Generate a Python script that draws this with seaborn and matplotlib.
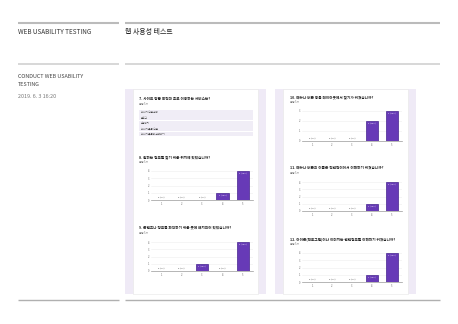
import matplotlib
matplotlib.use("Agg")
import matplotlib.pyplot as plt
from matplotlib.patches import Rectangle
import seaborn as sns
import pandas as pd

sns.set_theme(style="white")
plt.rcParams['font.family'] = ['Noto Sans CJK KR', 'DejaVu Sans']

# Page texts
header_left = "WEB USABILITY TESTING"
header_right = "웹 사용성 테스트"
sub_title = "CONDUCT WEB USABILITY\nTESTING"
date_text = "2019. 6. 3 16:20"

# Question 7 (short answers)
q7_title = "7. 사이트 방문 목적과 주로 이용하는 서비스는?"
q7_answers = ["나이키 신발 구매", "블로그", "쇼핑하기", "나이키 운동 신발", "나이키 운동화 구매하기"]
resp_note = "응답 5개"

# Bar chart questions
options = ["1", "2", "3", "4", "5"]
q8_title = "8. 원하는 정보를 찾기 쉬운 위치에 있었습니까?"
q8_counts = [0, 0, 0, 1, 4]
q9_title = "9. 콘텐츠나 정보를 파악하기 쉬운 곳에 배치되어 있었습니까?"
q9_counts = [0, 0, 1, 0, 4]
q10_title = "10. 메뉴나 버튼 등을 레이아웃에서 찾기가 쉬웠습니까?"
q10_counts = [0, 0, 0, 2, 3]
q11_title = "11. 메뉴나 버튼의 이름은 직관적이어서 이해하기 쉬웠습니까?"
q11_counts = [0, 0, 0, 1, 4]
q12_title = "12. 아이콘(픽토그램)이나 이미지는 관련정보를 이해하기 쉬웠습니까?"
q12_counts = [0, 0, 0, 1, 4]

W, H = 458, 324
BAR = "#673ab7"
BAR_EDGE = "#45238f"
LAV = "#efeaf6"


def pos(x0, y0, x1, y1):
    return [x0 / W, 1 - y1 / H, (x1 - x0) / W, (y1 - y0) / H]


fig = plt.figure(figsize=(W / 100, H / 100), dpi=100)
fig.patch.set_facecolor("white")

bg = fig.add_axes([0, 0, 1, 1])
bg.set_xlim(0, W)
bg.set_ylim(H, 0)
bg.axis("off")

# rules
for y, lw, c in [(23, 1.5, "#bbbbbb"), (64, 1.3, "#d4d4d4"), (300, 1.0, "#b0b0b0")]:
    bg.plot([18, 119], [y, y], color=c, lw=lw, solid_capstyle="butt")
    bg.plot([125, 440], [y, y], color=c, lw=lw, solid_capstyle="butt")

bg.text(18, 32, header_left, fontsize=4.6, color="#333333", va="center")
bg.text(125, 32, header_right, fontsize=5, color="#222222", va="center", fontweight="medium")
bg.text(18, 80.5, sub_title, fontsize=3.9, color="#444444", va="center", linespacing=1.6)
bg.text(18, 96.5, date_text, fontsize=3.9, color="#777777", va="center")

# panels
for x0 in (125, 275):
    bg.add_patch(Rectangle((x0, 89), 141, 205, facecolor=LAV, edgecolor="none"))
    bg.add_patch(Rectangle((x0 + 8, 89), 125, 205, facecolor="white", edgecolor="#e6e6e6", lw=0.4))


def q_header(x, y, title):
    bg.text(x, y, title, fontsize=2.6, color="#222222", va="center", fontweight="bold")
    bg.text(x, y + 5, resp_note, fontsize=1.8, color="#777777", va="center")


# question 7 list
q_header(139, 99, q7_title)
for i, ans in enumerate(q7_answers):
    y = 110 + i * 5.4
    bg.add_patch(Rectangle((139, y), 114, 4.8, facecolor="#f0edf6", edgecolor="none"))
    bg.text(141, y + 2.4, ans, fontsize=1.8, color="#444444", va="center")


def bar_chart(box, title, counts, ymax):
    x0, y0, x1, y1 = box
    q_header(x0 - 12, y0 - 14, title)
    ax = fig.add_axes(pos(x0, y0, x1, y1))
    df = pd.DataFrame({"option": options, "count": counts})
    sns.barplot(data=df, x="option", y="count", ax=ax, color=BAR,
                width=0.6, edgecolor=BAR_EDGE, linewidth=0.5, saturation=1)
    ax.set_ylim(0, ymax)
    ax.set_yticks(range(ymax + 1))
    ax.grid(axis="y", color="#eeeeee", lw=0.4)
    ax.set_axisbelow(True)
    for s in ["left", "right", "top"]:
        ax.spines[s].set_visible(False)
    ax.spines["bottom"].set_color("#999999")
    ax.spines["bottom"].set_linewidth(0.5)
    ax.tick_params(axis="both", labelsize=1.8, length=0, pad=1.2, colors="#666666")
    ax.set_xlabel("")
    ax.set_ylabel("")
    total = sum(counts)
    for i, c in enumerate(counts):
        lab = f"{c} ({c * 100 // total}%)"
        if c > 0:
            ax.text(i, c - 0.04 * ymax, lab, ha="center", va="top", fontsize=1.6, color="white")
        else:
            ax.text(i, 0.06 * ymax, lab, ha="center", va="bottom", fontsize=1.6, color="#444444")
    ax.patch.set_alpha(0)
    return ax


bar_chart((151, 171, 253, 200), q8_title, q8_counts, 4)
bar_chart((151, 242, 253, 271), q9_title, q9_counts, 4)
bar_chart((302, 111, 402, 141), q10_title, q10_counts, 3)
bar_chart((302, 182, 402, 211), q11_title, q11_counts, 4)
bar_chart((302, 253, 402, 282), q12_title, q12_counts, 4)

fig.savefig("out.png", dpi=100)
